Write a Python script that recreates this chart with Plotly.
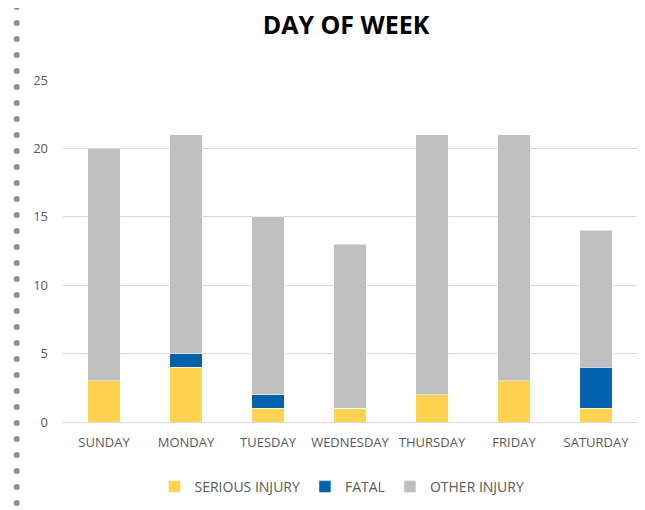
import plotly.graph_objects as go

days = ['SUNDAY', 'MONDAY', 'TUESDAY', 'WEDNESDAY', 'THURSDAY', 'FRIDAY', 'SATURDAY']
serious_injury = [3, 4, 1, 1, 2, 3, 1]
fatal = [0, 1, 1, 0, 0, 0, 3]
other_injury = [17, 16, 13, 12, 19, 18, 10]

# page has an 8px body margin, so the figure sits 8px right/down
OFF = 8
L, R, T, B = 63 - OFF, 16, 80 - OFF, 96
PW, PH = 645 - L - R, 510 - T - B

fig = go.Figure()
fig.add_trace(go.Bar(x=days, y=serious_injury, name='SERIOUS INJURY', marker_color='#FFD34F'))
fig.add_trace(go.Bar(x=days, y=fatal, name='FATAL', marker_color='#0461AB'))
fig.add_trace(go.Bar(x=days, y=other_injury, name='OTHER INJURY', marker_color='#BFBFBF'))

# dotted border on the left edge
for i in range(32):
    cy = 7 + i * 16 - OFF
    cx = 16.7 - OFF
    fig.add_shape(type='circle', xref='paper', yref='paper',
                  x0=(cx - 3 - L) / PW, x1=(cx + 3 - L) / PW,
                  y0=(510 - B - cy - 3) / PH, y1=(510 - B - cy + 3) / PH,
                  fillcolor='#8C8C8C', line_width=0)

fig.update_layout(
    width=645, height=510,
    barmode='stack', bargap=0.6,
    template='plotly_white',
    plot_bgcolor='white', paper_bgcolor='white',
    font=dict(family='Open Sans', size=12, color='#595959'),
    title=dict(text='<b>DAY OF WEEK</b>', x=(346 - OFF) / 645, xanchor='center',
               y=1 - (25 - OFF) / 510, yanchor='middle',
               font=dict(size=25, color='black')),
    margin=dict(l=L, r=R, t=T, b=B),
    legend=dict(orientation='h', x=(342 - OFF - L) / PW, xanchor='center',
                y=(510 - B - (487 - OFF)) / PH, yanchor='middle', itemwidth=30,
                font=dict(size=14, color='#595959'), traceorder='normal'),
    xaxis=dict(showgrid=False, linecolor='#D9D9D9', linewidth=1, showline=True,
               ticks='', tickfont=dict(size=13, color='#595959'),
               ticklabelstandoff=8),
    yaxis=dict(range=[0, 25], dtick=5, gridcolor='#D9D9D9', gridwidth=1,
               zeroline=False, ticks='', tickfont=dict(size=13, color='#595959'),
               ticklabelstandoff=14),
)

fig.write_html("out.html")
